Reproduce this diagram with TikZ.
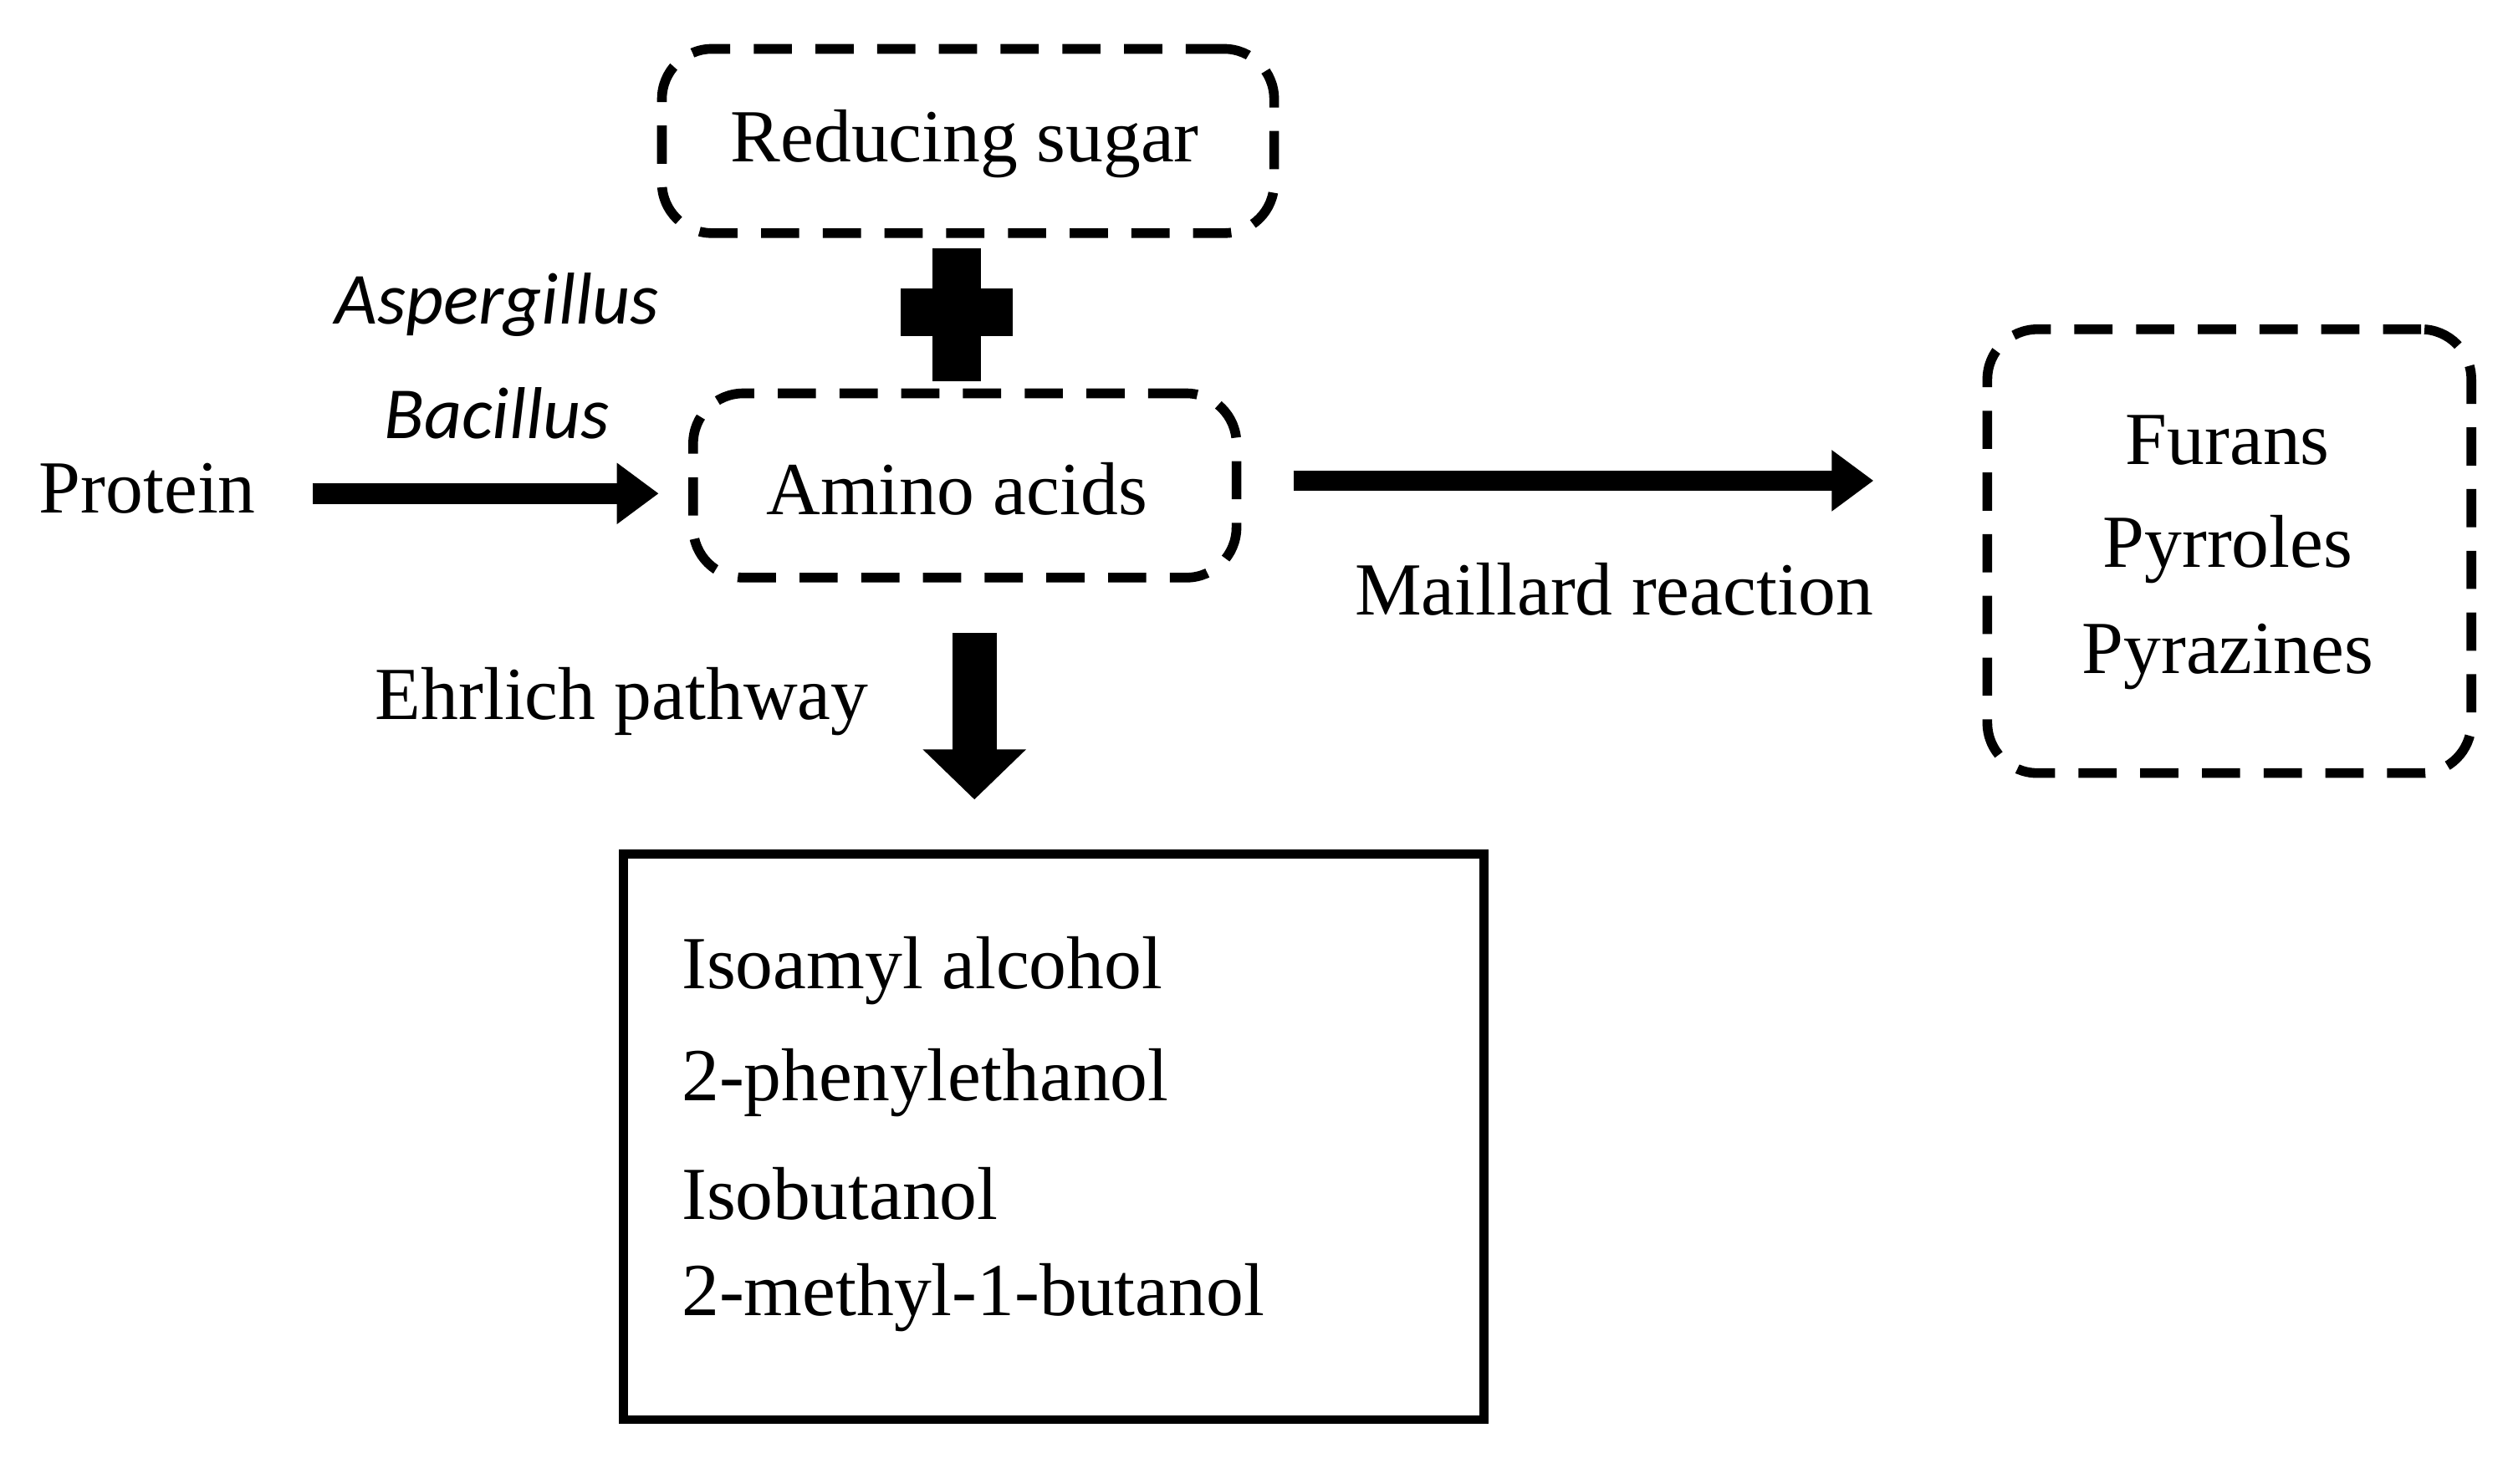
\documentclass[tikz,border=0pt]{standalone}
\usepackage{fontspec}
\setmainfont{Liberation Serif}
\newfontfamily\carlitofont{Carlito}
\usetikzlibrary{arrows.meta}
\begin{document}
\begin{tikzpicture}[x=0.01917cm,y=-0.01917cm,
  txt/.style={font=\fontsize{25.5}{30}\selectfont,inner sep=0pt},
  dbox/.style={draw,line width=3.3pt,dash pattern=on 13pt off 8pt,rounded corners=0.6cm},
  big/.style={line width=7pt,-{Triangle[length=0.5cm,width=0.7cm]}}]
\useasboundingbox (0,0) rectangle (1568,926);
\fill[white] (0,0) rectangle (1568,926);
\node[dbox,minimum width=382*0.01917cm,minimum height=115*0.01917cm] (rs) at (604,88) {};
\node[txt] at (602,90) {Reducing sugar};
\node[dbox,minimum width=339*0.01917cm,minimum height=115*0.01917cm] (aa) at (602,303) {};
\node[txt] at (597,305) {Amino acids};
\node[dbox,minimum width=302*0.01917cm,minimum height=277*0.01917cm] (fp) at (1391,344) {};
\node[txt] at (1390,275) {Furans};
\node[txt] at (1390,343) {Pyrroles};
\node[txt] at (1390,410) {Pyrazines};
\node[draw,line width=3pt,minimum width=537*0.01917cm,minimum height=353*0.01917cm] (al) at (657.5,709.5) {};
\node[txt,anchor=west] at (425,606) {Isoamyl alcohol};
\node[txt,anchor=west] at (425,676) {2-phenylethanol};
\node[txt,anchor=west] at (425,745) {Isobutanol};
\node[txt,anchor=west] at (425,810) {2-methyl-1-butanol};
\node[txt] (pr) at (92,305) {Protein};
\node[txt,font=\carlitofont\itshape\fontsize{25}{28}\selectfont] at (310,190) {Aspergillus};
\node[txt,font=\carlitofont\itshape\fontsize{25}{28}\selectfont] at (310,258) {Bacillus};
\node[txt] at (1007,368) {Maillard reaction};
\node[txt] at (388,438) {Ehrlich pathway};
% plus
\fill (582,155) rectangle (612,238);
\fill (562,180) rectangle (632,210);
\coordinate (a1) at (195,308); \coordinate (a2) at (411,308);
\draw[big] (a1) -- (a2);
\coordinate (b1) at (807,300); \coordinate (b2) at (1169,300);
\draw[big] (b1) -- (b2);
\coordinate (c1) at (608,395); \coordinate (c2) at (608,499);
\draw[line width=15pt,-{Triangle[length=0.6cm,width=1.2cm]}] (c1) -- (c2);
\end{tikzpicture}
\end{document}
